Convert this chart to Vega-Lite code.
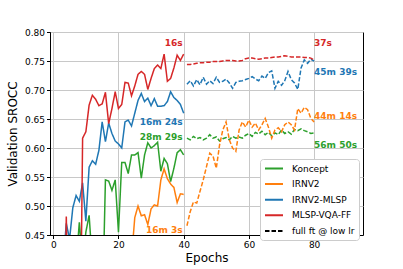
{
  "$schema": "https://vega.github.io/schema/vega-lite/v6.json",
  "width": 313,
  "height": 203,
  "autosize": {"type": "none"},
  "padding": {"left": 50, "top": 32, "right": 40, "bottom": 34},
  "background": "white",
  "config": {
    "font": "DejaVu Sans",
    "view": {"stroke": "black", "strokeWidth": 1},
    "axis": {
      "labelFont": "DejaVu Sans", "labelFontSize": 9, "labelColor": "black", "labelOverlap": false,
      "titleFont": "DejaVu Sans", "titleFontSize": 12, "titleFontWeight": "normal", "titleColor": "black",
      "domainColor": "black", "tickColor": "black", "tickSize": 3.5, "labelPadding": 2,
      "gridColor": "#c8c8c8", "gridWidth": 1
    }
  },
  "datasets": {
    "curves": [
      {"s":"Koncept","p":"solid","e":7,"v":0.40},{"s":"Koncept","p":"solid","e":8,"v":0.472},{"s":"Koncept","p":"solid","e":9,"v":0.40},{"s":"Koncept","p":"solid","e":10,"v":0.455},{"s":"Koncept","p":"solid","e":11,"v":0.484},{"s":"Koncept","p":"solid","e":12,"v":0.40},{"s":"Koncept","p":"solid","e":13,"v":0.38},{"s":"Koncept","p":"solid","e":14,"v":0.35},{"s":"Koncept","p":"solid","e":15,"v":0.30},{"s":"Koncept","p":"solid","e":16,"v":0.545},{"s":"Koncept","p":"solid","e":17,"v":0.543},{"s":"Koncept","p":"solid","e":18,"v":0.527},{"s":"Koncept","p":"solid","e":19,"v":0.545},{"s":"Koncept","p":"solid","e":20,"v":0.455},{"s":"Koncept","p":"solid","e":21,"v":0.575},{"s":"Koncept","p":"solid","e":22,"v":0.575},{"s":"Koncept","p":"solid","e":23,"v":0.556},{"s":"Koncept","p":"solid","e":24,"v":0.588},{"s":"Koncept","p":"solid","e":25,"v":0.588},{"s":"Koncept","p":"solid","e":26,"v":0.592},{"s":"Koncept","p":"solid","e":27,"v":0.548},{"s":"Koncept","p":"solid","e":28,"v":0.588},{"s":"Koncept","p":"solid","e":29,"v":0.609},{"s":"Koncept","p":"solid","e":30,"v":0.600},{"s":"Koncept","p":"solid","e":31,"v":0.604},{"s":"Koncept","p":"solid","e":32,"v":0.610},{"s":"Koncept","p":"solid","e":33,"v":0.560},{"s":"Koncept","p":"solid","e":34,"v":0.582},{"s":"Koncept","p":"solid","e":35,"v":0.573},{"s":"Koncept","p":"solid","e":36,"v":0.542},{"s":"Koncept","p":"solid","e":37,"v":0.565},{"s":"Koncept","p":"solid","e":38,"v":0.592},{"s":"Koncept","p":"solid","e":39,"v":0.597},{"s":"Koncept","p":"solid","e":40,"v":0.588},
      {"s":"Koncept","p":"ft","e":41,"v":0.617},{"s":"Koncept","p":"ft","e":42,"v":0.614},{"s":"Koncept","p":"ft","e":43,"v":0.620},{"s":"Koncept","p":"ft","e":44,"v":0.616},{"s":"Koncept","p":"ft","e":45,"v":0.618},{"s":"Koncept","p":"ft","e":46,"v":0.614},{"s":"Koncept","p":"ft","e":47,"v":0.617},{"s":"Koncept","p":"ft","e":48,"v":0.623},{"s":"Koncept","p":"ft","e":49,"v":0.617},{"s":"Koncept","p":"ft","e":50,"v":0.619},{"s":"Koncept","p":"ft","e":51,"v":0.612},{"s":"Koncept","p":"ft","e":52,"v":0.616},{"s":"Koncept","p":"ft","e":53,"v":0.618},{"s":"Koncept","p":"ft","e":54,"v":0.614},{"s":"Koncept","p":"ft","e":55,"v":0.620},{"s":"Koncept","p":"ft","e":56,"v":0.617},{"s":"Koncept","p":"ft","e":57,"v":0.619},{"s":"Koncept","p":"ft","e":58,"v":0.617},{"s":"Koncept","p":"ft","e":59,"v":0.622},{"s":"Koncept","p":"ft","e":60,"v":0.625},{"s":"Koncept","p":"ft","e":61,"v":0.620},{"s":"Koncept","p":"ft","e":62,"v":0.627},{"s":"Koncept","p":"ft","e":63,"v":0.624},{"s":"Koncept","p":"ft","e":64,"v":0.629},{"s":"Koncept","p":"ft","e":65,"v":0.623},{"s":"Koncept","p":"ft","e":66,"v":0.627},{"s":"Koncept","p":"ft","e":67,"v":0.621},{"s":"Koncept","p":"ft","e":68,"v":0.626},{"s":"Koncept","p":"ft","e":69,"v":0.623},{"s":"Koncept","p":"ft","e":70,"v":0.631},{"s":"Koncept","p":"ft","e":71,"v":0.625},{"s":"Koncept","p":"ft","e":72,"v":0.628},{"s":"Koncept","p":"ft","e":73,"v":0.624},{"s":"Koncept","p":"ft","e":74,"v":0.632},{"s":"Koncept","p":"ft","e":75,"v":0.630},{"s":"Koncept","p":"ft","e":76,"v":0.633},{"s":"Koncept","p":"ft","e":77,"v":0.630},{"s":"Koncept","p":"ft","e":78,"v":0.628},{"s":"Koncept","p":"ft","e":79,"v":0.625},{"s":"Koncept","p":"ft","e":80,"v":0.626},
      {"s":"IRNV2","p":"solid","e":24,"v":0.41},{"s":"IRNV2","p":"solid","e":25,"v":0.48},{"s":"IRNV2","p":"solid","e":26,"v":0.50},{"s":"IRNV2","p":"solid","e":27,"v":0.483},{"s":"IRNV2","p":"solid","e":28,"v":0.485},{"s":"IRNV2","p":"solid","e":29,"v":0.468},{"s":"IRNV2","p":"solid","e":30,"v":0.495},{"s":"IRNV2","p":"solid","e":31,"v":0.502},{"s":"IRNV2","p":"solid","e":32,"v":0.500},{"s":"IRNV2","p":"solid","e":33,"v":0.545},{"s":"IRNV2","p":"solid","e":34,"v":0.564},{"s":"IRNV2","p":"solid","e":35,"v":0.547},{"s":"IRNV2","p":"solid","e":36,"v":0.538},{"s":"IRNV2","p":"solid","e":37,"v":0.532},{"s":"IRNV2","p":"solid","e":38,"v":0.506},{"s":"IRNV2","p":"solid","e":39,"v":0.521},{"s":"IRNV2","p":"solid","e":40,"v":0.520},
      {"s":"IRNV2","p":"ft","e":41,"v":0.466},{"s":"IRNV2","p":"ft","e":42,"v":0.490},{"s":"IRNV2","p":"ft","e":43,"v":0.507},{"s":"IRNV2","p":"ft","e":44,"v":0.505},{"s":"IRNV2","p":"ft","e":45,"v":0.525},{"s":"IRNV2","p":"ft","e":46,"v":0.545},{"s":"IRNV2","p":"ft","e":47,"v":0.568},{"s":"IRNV2","p":"ft","e":48,"v":0.591},{"s":"IRNV2","p":"ft","e":49,"v":0.586},{"s":"IRNV2","p":"ft","e":50,"v":0.565},{"s":"IRNV2","p":"ft","e":51,"v":0.605},{"s":"IRNV2","p":"ft","e":52,"v":0.631},{"s":"IRNV2","p":"ft","e":53,"v":0.645},{"s":"IRNV2","p":"ft","e":54,"v":0.614},{"s":"IRNV2","p":"ft","e":55,"v":0.600},{"s":"IRNV2","p":"ft","e":56,"v":0.594},{"s":"IRNV2","p":"ft","e":57,"v":0.631},{"s":"IRNV2","p":"ft","e":58,"v":0.645},{"s":"IRNV2","p":"ft","e":59,"v":0.636},{"s":"IRNV2","p":"ft","e":60,"v":0.648},{"s":"IRNV2","p":"ft","e":61,"v":0.636},{"s":"IRNV2","p":"ft","e":62,"v":0.643},{"s":"IRNV2","p":"ft","e":63,"v":0.631},{"s":"IRNV2","p":"ft","e":64,"v":0.640},{"s":"IRNV2","p":"ft","e":65,"v":0.651},{"s":"IRNV2","p":"ft","e":66,"v":0.636},{"s":"IRNV2","p":"ft","e":67,"v":0.617},{"s":"IRNV2","p":"ft","e":68,"v":0.631},{"s":"IRNV2","p":"ft","e":69,"v":0.635},{"s":"IRNV2","p":"ft","e":70,"v":0.628},{"s":"IRNV2","p":"ft","e":71,"v":0.640},{"s":"IRNV2","p":"ft","e":72,"v":0.645},{"s":"IRNV2","p":"ft","e":73,"v":0.640},{"s":"IRNV2","p":"ft","e":74,"v":0.631},{"s":"IRNV2","p":"ft","e":75,"v":0.668},{"s":"IRNV2","p":"ft","e":76,"v":0.660},{"s":"IRNV2","p":"ft","e":77,"v":0.670},{"s":"IRNV2","p":"ft","e":78,"v":0.666},{"s":"IRNV2","p":"ft","e":79,"v":0.651},{"s":"IRNV2","p":"ft","e":80,"v":0.645},
      {"s":"IRNV2-MLSP","p":"solid","e":3,"v":0.40},{"s":"IRNV2-MLSP","p":"solid","e":4,"v":0.47},{"s":"IRNV2-MLSP","p":"solid","e":5,"v":0.443},{"s":"IRNV2-MLSP","p":"solid","e":6,"v":0.497},{"s":"IRNV2-MLSP","p":"solid","e":7,"v":0.518},{"s":"IRNV2-MLSP","p":"solid","e":8,"v":0.508},{"s":"IRNV2-MLSP","p":"solid","e":9,"v":0.540},{"s":"IRNV2-MLSP","p":"solid","e":10,"v":0.474},{"s":"IRNV2-MLSP","p":"solid","e":11,"v":0.567},{"s":"IRNV2-MLSP","p":"solid","e":12,"v":0.578},{"s":"IRNV2-MLSP","p":"solid","e":13,"v":0.572},{"s":"IRNV2-MLSP","p":"solid","e":14,"v":0.596},{"s":"IRNV2-MLSP","p":"solid","e":15,"v":0.645},{"s":"IRNV2-MLSP","p":"solid","e":16,"v":0.611},{"s":"IRNV2-MLSP","p":"solid","e":17,"v":0.643},{"s":"IRNV2-MLSP","p":"solid","e":18,"v":0.625},{"s":"IRNV2-MLSP","p":"solid","e":19,"v":0.612},{"s":"IRNV2-MLSP","p":"solid","e":20,"v":0.607},{"s":"IRNV2-MLSP","p":"solid","e":21,"v":0.600},{"s":"IRNV2-MLSP","p":"solid","e":22,"v":0.645},{"s":"IRNV2-MLSP","p":"solid","e":23,"v":0.648},{"s":"IRNV2-MLSP","p":"solid","e":24,"v":0.638},{"s":"IRNV2-MLSP","p":"solid","e":25,"v":0.660},{"s":"IRNV2-MLSP","p":"solid","e":26,"v":0.682},{"s":"IRNV2-MLSP","p":"solid","e":27,"v":0.694},{"s":"IRNV2-MLSP","p":"solid","e":28,"v":0.680},{"s":"IRNV2-MLSP","p":"solid","e":29,"v":0.686},{"s":"IRNV2-MLSP","p":"solid","e":30,"v":0.673},{"s":"IRNV2-MLSP","p":"solid","e":31,"v":0.685},{"s":"IRNV2-MLSP","p":"solid","e":32,"v":0.672},{"s":"IRNV2-MLSP","p":"solid","e":33,"v":0.672},{"s":"IRNV2-MLSP","p":"solid","e":34,"v":0.673},{"s":"IRNV2-MLSP","p":"solid","e":35,"v":0.680},{"s":"IRNV2-MLSP","p":"solid","e":36,"v":0.697},{"s":"IRNV2-MLSP","p":"solid","e":37,"v":0.687},{"s":"IRNV2-MLSP","p":"solid","e":38,"v":0.682},{"s":"IRNV2-MLSP","p":"solid","e":39,"v":0.675},{"s":"IRNV2-MLSP","p":"solid","e":40,"v":0.660},
      {"s":"IRNV2-MLSP","p":"ft","e":41,"v":0.710},{"s":"IRNV2-MLSP","p":"ft","e":42,"v":0.716},{"s":"IRNV2-MLSP","p":"ft","e":43,"v":0.707},{"s":"IRNV2-MLSP","p":"ft","e":44,"v":0.718},{"s":"IRNV2-MLSP","p":"ft","e":45,"v":0.709},{"s":"IRNV2-MLSP","p":"ft","e":46,"v":0.722},{"s":"IRNV2-MLSP","p":"ft","e":47,"v":0.710},{"s":"IRNV2-MLSP","p":"ft","e":48,"v":0.716},{"s":"IRNV2-MLSP","p":"ft","e":49,"v":0.711},{"s":"IRNV2-MLSP","p":"ft","e":50,"v":0.722},{"s":"IRNV2-MLSP","p":"ft","e":51,"v":0.713},{"s":"IRNV2-MLSP","p":"ft","e":52,"v":0.715},{"s":"IRNV2-MLSP","p":"ft","e":53,"v":0.719},{"s":"IRNV2-MLSP","p":"ft","e":54,"v":0.712},{"s":"IRNV2-MLSP","p":"ft","e":55,"v":0.703},{"s":"IRNV2-MLSP","p":"ft","e":56,"v":0.713},{"s":"IRNV2-MLSP","p":"ft","e":57,"v":0.715},{"s":"IRNV2-MLSP","p":"ft","e":58,"v":0.716},{"s":"IRNV2-MLSP","p":"ft","e":59,"v":0.718},{"s":"IRNV2-MLSP","p":"ft","e":60,"v":0.720},{"s":"IRNV2-MLSP","p":"ft","e":61,"v":0.723},{"s":"IRNV2-MLSP","p":"ft","e":62,"v":0.719},{"s":"IRNV2-MLSP","p":"ft","e":63,"v":0.716},{"s":"IRNV2-MLSP","p":"ft","e":64,"v":0.724},{"s":"IRNV2-MLSP","p":"ft","e":65,"v":0.720},{"s":"IRNV2-MLSP","p":"ft","e":66,"v":0.730},{"s":"IRNV2-MLSP","p":"ft","e":67,"v":0.733},{"s":"IRNV2-MLSP","p":"ft","e":68,"v":0.703},{"s":"IRNV2-MLSP","p":"ft","e":69,"v":0.715},{"s":"IRNV2-MLSP","p":"ft","e":70,"v":0.708},{"s":"IRNV2-MLSP","p":"ft","e":71,"v":0.716},{"s":"IRNV2-MLSP","p":"ft","e":72,"v":0.732},{"s":"IRNV2-MLSP","p":"ft","e":73,"v":0.718},{"s":"IRNV2-MLSP","p":"ft","e":74,"v":0.712},{"s":"IRNV2-MLSP","p":"ft","e":75,"v":0.701},{"s":"IRNV2-MLSP","p":"ft","e":76,"v":0.738},{"s":"IRNV2-MLSP","p":"ft","e":77,"v":0.752},{"s":"IRNV2-MLSP","p":"ft","e":78,"v":0.746},{"s":"IRNV2-MLSP","p":"ft","e":79,"v":0.753},{"s":"IRNV2-MLSP","p":"ft","e":80,"v":0.750},
      {"s":"MLSP-VQA-FF","p":"solid","e":3,"v":0.15},{"s":"MLSP-VQA-FF","p":"solid","e":4,"v":0.482},{"s":"MLSP-VQA-FF","p":"solid","e":5,"v":0.15},{"s":"MLSP-VQA-FF","p":"solid","e":6,"v":0.12},{"s":"MLSP-VQA-FF","p":"solid","e":7,"v":0.11},{"s":"MLSP-VQA-FF","p":"solid","e":8,"v":0.10},{"s":"MLSP-VQA-FF","p":"solid","e":9,"v":0.617},{"s":"MLSP-VQA-FF","p":"solid","e":10,"v":0.628},{"s":"MLSP-VQA-FF","p":"solid","e":11,"v":0.674},{"s":"MLSP-VQA-FF","p":"solid","e":12,"v":0.691},{"s":"MLSP-VQA-FF","p":"solid","e":13,"v":0.684},{"s":"MLSP-VQA-FF","p":"solid","e":14,"v":0.673},{"s":"MLSP-VQA-FF","p":"solid","e":15,"v":0.676},{"s":"MLSP-VQA-FF","p":"solid","e":16,"v":0.696},{"s":"MLSP-VQA-FF","p":"solid","e":17,"v":0.642},{"s":"MLSP-VQA-FF","p":"solid","e":18,"v":0.668},{"s":"MLSP-VQA-FF","p":"solid","e":19,"v":0.697},{"s":"MLSP-VQA-FF","p":"solid","e":20,"v":0.668},{"s":"MLSP-VQA-FF","p":"solid","e":21,"v":0.675},{"s":"MLSP-VQA-FF","p":"solid","e":22,"v":0.713},{"s":"MLSP-VQA-FF","p":"solid","e":23,"v":0.712},{"s":"MLSP-VQA-FF","p":"solid","e":24,"v":0.690},{"s":"MLSP-VQA-FF","p":"solid","e":25,"v":0.707},{"s":"MLSP-VQA-FF","p":"solid","e":26,"v":0.727},{"s":"MLSP-VQA-FF","p":"solid","e":27,"v":0.732},{"s":"MLSP-VQA-FF","p":"solid","e":28,"v":0.727},{"s":"MLSP-VQA-FF","p":"solid","e":29,"v":0.701},{"s":"MLSP-VQA-FF","p":"solid","e":30,"v":0.720},{"s":"MLSP-VQA-FF","p":"solid","e":31,"v":0.737},{"s":"MLSP-VQA-FF","p":"solid","e":32,"v":0.743},{"s":"MLSP-VQA-FF","p":"solid","e":33,"v":0.737},{"s":"MLSP-VQA-FF","p":"solid","e":34,"v":0.762},{"s":"MLSP-VQA-FF","p":"solid","e":35,"v":0.715},{"s":"MLSP-VQA-FF","p":"solid","e":36,"v":0.720},{"s":"MLSP-VQA-FF","p":"solid","e":37,"v":0.738},{"s":"MLSP-VQA-FF","p":"solid","e":38,"v":0.760},{"s":"MLSP-VQA-FF","p":"solid","e":39,"v":0.751},{"s":"MLSP-VQA-FF","p":"solid","e":40,"v":0.762},
      {"s":"MLSP-VQA-FF","p":"ft","e":41,"v":0.744},{"s":"MLSP-VQA-FF","p":"ft","e":42,"v":0.744},{"s":"MLSP-VQA-FF","p":"ft","e":43,"v":0.745},{"s":"MLSP-VQA-FF","p":"ft","e":44,"v":0.746},{"s":"MLSP-VQA-FF","p":"ft","e":45,"v":0.747},{"s":"MLSP-VQA-FF","p":"ft","e":46,"v":0.747},{"s":"MLSP-VQA-FF","p":"ft","e":47,"v":0.748},{"s":"MLSP-VQA-FF","p":"ft","e":48,"v":0.748},{"s":"MLSP-VQA-FF","p":"ft","e":49,"v":0.749},{"s":"MLSP-VQA-FF","p":"ft","e":50,"v":0.749},{"s":"MLSP-VQA-FF","p":"ft","e":51,"v":0.749},{"s":"MLSP-VQA-FF","p":"ft","e":52,"v":0.750},{"s":"MLSP-VQA-FF","p":"ft","e":53,"v":0.751},{"s":"MLSP-VQA-FF","p":"ft","e":54,"v":0.751},{"s":"MLSP-VQA-FF","p":"ft","e":55,"v":0.751},{"s":"MLSP-VQA-FF","p":"ft","e":56,"v":0.750},{"s":"MLSP-VQA-FF","p":"ft","e":57,"v":0.750},{"s":"MLSP-VQA-FF","p":"ft","e":58,"v":0.751},{"s":"MLSP-VQA-FF","p":"ft","e":59,"v":0.754},{"s":"MLSP-VQA-FF","p":"ft","e":60,"v":0.755},{"s":"MLSP-VQA-FF","p":"ft","e":61,"v":0.755},{"s":"MLSP-VQA-FF","p":"ft","e":62,"v":0.754},{"s":"MLSP-VQA-FF","p":"ft","e":63,"v":0.753},{"s":"MLSP-VQA-FF","p":"ft","e":64,"v":0.754},{"s":"MLSP-VQA-FF","p":"ft","e":65,"v":0.755},{"s":"MLSP-VQA-FF","p":"ft","e":66,"v":0.755},{"s":"MLSP-VQA-FF","p":"ft","e":67,"v":0.756},{"s":"MLSP-VQA-FF","p":"ft","e":68,"v":0.757},{"s":"MLSP-VQA-FF","p":"ft","e":69,"v":0.757},{"s":"MLSP-VQA-FF","p":"ft","e":70,"v":0.758},{"s":"MLSP-VQA-FF","p":"ft","e":71,"v":0.759},{"s":"MLSP-VQA-FF","p":"ft","e":72,"v":0.758},{"s":"MLSP-VQA-FF","p":"ft","e":73,"v":0.757},{"s":"MLSP-VQA-FF","p":"ft","e":74,"v":0.757},{"s":"MLSP-VQA-FF","p":"ft","e":75,"v":0.757},{"s":"MLSP-VQA-FF","p":"ft","e":76,"v":0.757},{"s":"MLSP-VQA-FF","p":"ft","e":77,"v":0.756},{"s":"MLSP-VQA-FF","p":"ft","e":78,"v":0.756},{"s":"MLSP-VQA-FF","p":"ft","e":79,"v":0.755},{"s":"MLSP-VQA-FF","p":"ft","e":80,"v":0.752}
    ],
    "labels": [
      {"s":"MLSP-VQA-FF","e":40,"v":0.781,"t":"16s"},
      {"s":"IRNV2-MLSP","e":40,"v":0.645,"t":"16m 24s"},
      {"s":"Koncept","e":40,"v":0.619,"t":"28m 29s"},
      {"s":"IRNV2","e":40,"v":0.459,"t":"16m 3s"},
      {"s":"MLSP-VQA-FF","e":80,"v":0.781,"t":"37s"},
      {"s":"IRNV2-MLSP","e":80,"v":0.731,"t":"45m 39s"},
      {"s":"IRNV2","e":80,"v":0.655,"t":"44m 14s"},
      {"s":"Koncept","e":80,"v":0.605,"t":"56m 50s"}
    ]
  },
  "layer": [
    {
      "data": {"name": "curves"},
      "mark": {"type": "line", "clip": true, "strokeWidth": 1.5},
      "encoding": {
        "x": {"field": "e", "type": "quantitative", "scale": {"domain": [-1, 95], "nice": false, "zero": false},
              "axis": {"values": [0, 20, 40, 60, 80], "tickCount": 10, "title": "Epochs", "titlePadding": 3, "grid": true, "labelOverlap": false}},
        "y": {"field": "v", "type": "quantitative", "scale": {"domain": [0.45, 0.8], "nice": false, "zero": false},
              "axis": {"values": [0.45, 0.5, 0.55, 0.6, 0.65, 0.7, 0.75, 0.8], "tickCount": 20, "format": ".2f", "title": "Validation SROCC", "titlePadding": 5, "grid": true, "labelOverlap": false}},
        "color": {"field": "s", "type": "nominal",
                  "scale": {"domain": ["Koncept", "IRNV2", "IRNV2-MLSP", "MLSP-VQA-FF", "full ft @ low lr"],
                            "range": ["#2ca02c", "#ff7f0e", "#1f77b4", "#d62728", "#000000"]},
                  "legend": {"title": null, "orient": "none", "legendX": 210, "legendY": 127,
                             "symbolType": "M-1,0H3", "symbolSize": 81, "symbolStrokeWidth": 2,
                             "labelFont": "DejaVu Sans", "labelFontSize": 9, "labelColor": "black", "labelOffset": 17,
                             "rowPadding": 4.6, "padding": 4, "fillColor": "white", "strokeColor": "#cccccc", "cornerRadius": 3,
                             "encode": {"symbols": {"update": {"strokeDash": {"signal": "datum.value === 'full ft @ low lr' ? [4.5, 2] : [1, 0]"}}}}}},
        "strokeDash": {"field": "p", "type": "nominal", "scale": {"domain": ["solid", "ft"], "range": [[1, 0], [4.5, 2]]}, "legend": null},
        "order": {"field": "e", "type": "quantitative"}
      }
    },
    {
      "data": {"name": "labels"},
      "transform": [{"filter": "datum.e < 60"}],
      "mark": {"type": "text", "align": "right", "baseline": "middle", "fontWeight": "bold", "fontSize": 9, "dx": -1},
      "encoding": {
        "x": {"field": "e", "type": "quantitative"},
        "y": {"field": "v", "type": "quantitative"},
        "text": {"field": "t"},
        "color": {"field": "s", "type": "nominal"}
      }
    },
    {
      "data": {"name": "labels"},
      "transform": [{"filter": "datum.e > 60"}],
      "mark": {"type": "text", "align": "left", "baseline": "middle", "fontWeight": "bold", "fontSize": 9, "dx": 0},
      "encoding": {
        "x": {"field": "e", "type": "quantitative"},
        "y": {"field": "v", "type": "quantitative"},
        "text": {"field": "t"},
        "color": {"field": "s", "type": "nominal"}
      }
    }
  ]
}
